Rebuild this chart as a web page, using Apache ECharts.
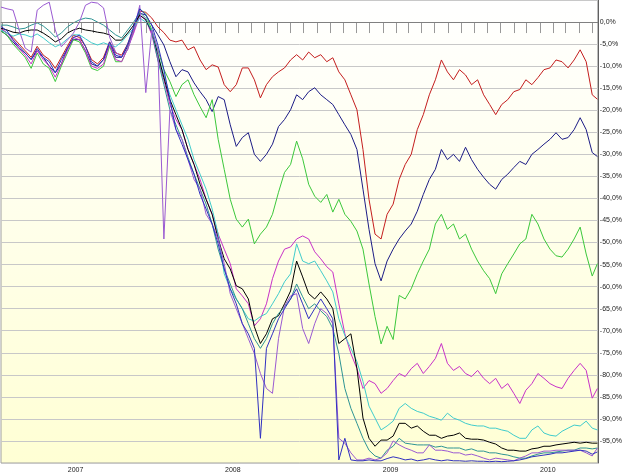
<!DOCTYPE html>
<html>
<head>
<meta charset="utf-8">
<script src="https://cdn.jsdelivr.net/npm/echarts@6/dist/echarts.min.js"></script>
<style>
  html, body { margin: 0; padding: 0; background: #fff; }
  #chart { width: 625px; height: 474px; }
</style>
</head>
<body>
<div id="chart"></div>
<script>
// sample dates: every 14 days from 30 Jul 2006, plus the last day
const sampleDates = [];
for (let i = 0; i < 99; i++) sampleDates.push(new Date(2006, 6, 30 + 14 * i).getTime());
sampleDates.push(new Date(2010, 4, 14).getTime());

// tick positions (first of each month) and year labels
const monthTicks = [];
for (let k = 0; k < 46; k++) monthTicks.push(new Date(2006, 7 + k, 1).getTime());
const yearLabels = [2007, 2008, 2009, 2010];

// performance in %
const red = [-1.5,-2.5,-3.5,-5.0,-6.5,-8.0,-5.5,-7.5,-8.5,-10.5,
  -8.0,-5.5,-3.0,-3.5,-5.5,-8.5,-9.5,-8.0,-4.5,-7.0,
  -7.5,-5.0,-1.5,2.5,2.2,0.9,-1.1,-2.4,-4.1,-4.5,
  -4.1,-6.3,-5.6,-8.6,-10.8,-9.7,-10.2,-14.2,-15.8,-14.2,
  -10.4,-10.4,-13.1,-17.2,-14.2,-12.4,-11.3,-10.4,-8.6,-7.4,
  -8.6,-6.8,-8.1,-7.4,-9.0,-8.1,-11.3,-13.1,-16.5,-19.9,
  -28.9,-40.2,-48.1,-49.2,-43.6,-41.3,-35.7,-32.3,-30.0,-24.4,
  -21.0,-16.5,-13.1,-8.6,-11.3,-13.1,-10.8,-12.0,-14.2,-13.1,
  -16.5,-18.7,-21.0,-18.7,-17.6,-15.8,-15.3,-13.1,-14.2,-12.6,
  -10.8,-10.4,-8.6,-9.0,-10.4,-8.6,-6.3,-9.0,-16.5,-17.5];

const navy = [-2.0,-3.0,-4.5,-6.0,-7.0,-8.5,-6.5,-8.0,-10.0,-11.5,
  -9.5,-6.0,-4.0,-4.0,-6.5,-9.5,-10.0,-8.5,-5.0,-8.0,
  -8.0,-5.5,-2.0,2.0,1.6,-0.7,-2.9,-5.2,-9.0,-12.4,
  -10.8,-11.3,-13.8,-15.8,-17.6,-20.3,-16.9,-17.6,-23.3,-28.2,
  -26.2,-25.1,-30.0,-31.6,-30.0,-27.7,-23.7,-22.1,-19.9,-16.5,
  -17.6,-15.8,-14.9,-16.5,-17.6,-18.7,-21.0,-23.3,-25.5,-28.9,
  -37.9,-47.0,-54.8,-58.7,-54.2,-51.5,-49.2,-47.4,-45.8,-42.9,
  -39.1,-35.7,-33.4,-28.9,-31.2,-30.0,-31.6,-28.4,-31.2,-33.4,
  -35.2,-36.8,-37.9,-35.7,-34.5,-33.0,-31.6,-32.3,-30.0,-28.9,
  -27.7,-26.6,-25.1,-26.6,-26.2,-24.4,-21.7,-24.4,-29.6,-30.5];

const green = [-2.0,-3.0,-5.0,-6.5,-8.0,-10.5,-7.0,-9.5,-10.5,-13.5,
  -10.0,-7.0,-4.0,-4.5,-7.0,-10.5,-11.0,-10.0,-5.5,-9.0,
  -9.0,-6.0,-2.0,3.0,1.8,-1.8,-6.3,-10.8,-13.5,-16.9,
  -14.2,-13.1,-16.5,-19.2,-21.7,-17.6,-26.6,-33.4,-40.2,-44.7,
  -46.5,-44.7,-50.3,-48.1,-46.5,-43.6,-38.6,-34.1,-32.3,-27.0,
  -31.0,-36.8,-39.5,-40.9,-39.1,-43.1,-40.2,-43.6,-45.2,-47.4,
  -51.5,-59.4,-66.8,-73.0,-69.0,-72.0,-62.0,-62.8,-60.5,-57.1,
  -54.2,-51.5,-45.8,-43.6,-47.0,-45.8,-49.2,-48.1,-51.5,-54.2,
  -56.4,-58.2,-61.6,-57.1,-54.8,-52.6,-50.3,-49.2,-43.6,-45.8,
  -49.2,-51.5,-53.0,-53.3,-51.5,-49.2,-46.5,-52.6,-57.6,-54.8];

const magenta = [-1.5,-2.5,-4.0,-6.0,-7.5,-9.5,-6.5,-8.5,-10.0,-12.5,
  -9.5,-6.5,-3.5,-4.0,-6.5,-10.0,-10.5,-9.5,-5.0,-8.5,
  -9.0,-6.0,-2.5,1.5,0.5,-2.9,-8.6,-13.1,-18.7,-22.1,
  -24.4,-28.9,-32.3,-35.7,-40.2,-43.6,-48.1,-51.5,-54.8,-60.5,
  -62.1,-63.9,-68.9,-67.3,-63.9,-58.2,-54.2,-51.5,-51.0,-49.2,
  -48.5,-49.2,-52.1,-53.7,-55.5,-56.7,-63.9,-70.7,-75.2,-78.6,
  -83.1,-81.3,-82.0,-84.2,-83.1,-81.3,-79.7,-80.4,-78.6,-77.4,
  -79.7,-78.1,-76.3,-72.9,-77.4,-79.0,-78.1,-79.7,-80.4,-79.0,
  -80.8,-82.0,-80.8,-83.1,-82.0,-84.2,-86.5,-83.5,-82.0,-79.7,
  -80.8,-82.0,-82.7,-83.1,-80.8,-79.0,-77.4,-79.0,-85.3,-83.1];

const cyan = [-1.8,-2.5,-3.2,-2.7,-2.9,-3.4,-2.7,-3.6,-4.7,-5.6,
  -5.0,-3.8,-2.9,-2.9,-3.8,-4.7,-5.2,-4.7,-5.2,-5.6,
  -4.5,-2.9,-1.4,0.9,0.0,-1.8,-7.4,-12.0,-16.5,-19.9,
  -23.3,-26.6,-31.2,-34.5,-37.9,-42.4,-48.1,-57.1,-60.5,-62.8,
  -65.0,-67.3,-67.8,-66.8,-66.1,-63.9,-61.6,-58.9,-57.1,-50.3,
  -54.2,-54.8,-54.2,-56.4,-58.7,-61.2,-67.3,-71.1,-74.0,-77.0,
  -81.5,-87.1,-89.8,-92.5,-91.6,-90.5,-87.6,-86.5,-87.6,-88.3,
  -88.7,-89.4,-89.8,-90.3,-88.7,-89.8,-90.3,-91.0,-91.4,-91.6,
  -91.6,-92.1,-92.1,-92.5,-92.8,-93.7,-94.4,-94.4,-92.5,-91.6,
  -93.2,-93.7,-93.9,-92.8,-92.1,-91.4,-91.6,-90.5,-92.1,-92.5];

const black = [-1.4,-1.8,-2.3,-2.5,-2.0,-1.8,-1.8,-2.5,-3.4,-4.5,
  -3.8,-2.5,-1.8,-1.4,-1.8,-2.0,-2.3,-2.5,-2.9,-4.1,
  -4.1,-2.5,-0.7,1.6,0.5,-2.3,-7.4,-12.6,-17.6,-21.0,
  -24.4,-28.9,-32.3,-36.8,-40.2,-43.6,-49.2,-53.7,-56.0,-59.8,
  -60.5,-62.8,-69.1,-72.9,-70.7,-67.3,-66.6,-63.9,-61.0,-54.2,
  -57.8,-61.6,-62.8,-61.2,-62.8,-65.0,-72.9,-71.8,-70.7,-78.6,
  -89.8,-94.4,-96.2,-94.8,-94.8,-93.9,-91.0,-91.0,-92.1,-91.6,
  -92.8,-93.7,-93.7,-94.4,-93.9,-93.7,-93.2,-94.4,-94.6,-94.6,
  -94.8,-95.3,-95.7,-96.6,-97.1,-97.1,-97.3,-97.3,-96.8,-96.6,
  -96.2,-96.2,-95.9,-95.7,-95.5,-95.3,-95.5,-95.3,-95.5,-95.5];

const teal = [-0.7,-0.7,-1.1,-1.6,-1.4,-0.7,-0.2,-0.9,-2.0,-3.4,
  -2.5,-1.1,-0.2,0.5,0.9,0.7,0.0,-0.7,-1.8,-2.9,
  -3.6,-1.8,0.0,2.2,0.9,-2.3,-8.6,-14.2,-19.9,-23.3,
  -26.6,-30.7,-34.5,-37.9,-41.3,-45.8,-51.5,-56.0,-59.4,-62.8,
  -65.0,-68.4,-71.8,-74.0,-71.8,-68.4,-66.1,-64.6,-62.8,-59.4,
  -62.3,-65.0,-63.9,-65.5,-66.8,-69.5,-75.2,-83.1,-87.6,-91.0,
  -94.4,-97.1,-98.4,-98.9,-97.1,-96.2,-94.4,-95.5,-95.7,-95.9,
  -95.9,-95.9,-96.4,-96.2,-96.6,-96.6,-96.6,-97.1,-96.8,-97.3,
  -97.3,-97.7,-97.7,-98.0,-98.2,-98.6,-98.9,-98.9,-98.4,-98.0,
  -97.7,-97.7,-97.5,-97.3,-97.1,-97.1,-96.6,-96.6,-96.8,-96.6];

const purple = [3.4,3.0,2.7,-1.8,-5.9,-6.8,2.7,3.8,4.5,-1.8,
  -5.6,-4.1,-2.5,0.0,3.8,4.5,4.3,3.2,-3.4,-6.8,
  -7.9,-6.3,-1.8,3.8,-16.0,-1.8,-6.3,-49.2,-19.9,-24.4,
  -26.6,-31.2,-35.7,-37.9,-43.6,-45.8,-49.2,-54.8,-61.6,-65.0,
  -68.4,-71.8,-75.2,-79.7,-83.1,-84.2,-71.8,-64.4,-62.1,-61.6,
  -69.5,-72.9,-68.4,-65.0,-66.1,-68.4,-94.4,-95.5,-97.7,-99.3,
  -99.3,-98.9,-99.3,-98.9,-97.7,-95.0,-95.9,-96.6,-97.1,-97.7,
  -97.7,-95.9,-97.1,-97.1,-97.3,-97.7,-97.7,-98.2,-98.0,-98.4,
  -98.9,-99.3,-98.9,-99.1,-99.3,-99.5,-98.9,-98.4,-97.7,-97.7,
  -97.3,-97.3,-97.1,-97.1,-97.1,-97.1,-97.1,-97.7,-98.4,-96.6];

const blue = [-1.0,-2.0,-4.0,-5.5,-7.0,-8.5,-6.0,-8.0,-9.0,-11.5,
  -8.5,-6.0,-3.5,-3.0,-5.5,-9.0,-10.0,-8.5,-4.5,-7.5,
  -8.0,-5.0,-1.0,3.0,1.6,-0.7,-5.2,-10.8,-17.6,-24.4,
  -27.7,-31.2,-34.5,-39.1,-42.4,-45.8,-50.3,-56.0,-60.5,-63.9,
  -68.4,-70.7,-74.0,-94.4,-74.0,-70.7,-67.3,-65.0,-62.8,-60.5,
  -63.9,-67.3,-65.0,-62.8,-65.0,-67.3,-99.3,-94.4,-99.3,-99.5,
  -99.5,-99.3,-99.5,-99.5,-99.0,-98.6,-98.9,-99.3,-99.1,-99.5,
  -99.3,-99.0,-99.3,-99.5,-99.3,-99.5,-99.5,-99.6,-99.5,-99.6,
  -99.6,-99.7,-99.6,-99.7,-99.6,-99.5,-99.3,-99.0,-98.6,-98.4,
  -98.2,-98.0,-97.7,-97.7,-97.5,-97.3,-97.1,-97.3,-98.0,-97.5];

const seriesList = [
  { name: 'red', color: '#c41e1e', values: red },
  { name: 'navy', color: '#1c1c86', values: navy },
  { name: 'green', color: '#3cc83c', values: green },
  { name: 'magenta', color: '#c832c8', values: magenta },
  { name: 'cyan', color: '#40cccc', values: cyan },
  { name: 'black', color: '#000000', values: black },
  { name: 'teal', color: '#2e9494', values: teal },
  { name: 'purple', color: '#9a5ad2', values: purple },
  { name: 'blue', color: '#3030c0', values: blue }
];

const chart = echarts.init(document.getElementById('chart'));

const series = seriesList.map((s, idx) => {
  const item = {
    name: s.name,
    type: 'line',
    showSymbol: false,
    symbol: 'none',
    data: sampleDates.map((d, i) => [d, s.values[i]]),
    lineStyle: { width: 1, color: s.color },
    itemStyle: { color: s.color }
  };
  if (idx === 0) {
    // darker zero line
    item.markLine = {
      silent: true,
      symbol: 'none',
      label: { show: false },
      lineStyle: { color: '#808080', type: 'solid', width: 1 },
      data: [{ yAxis: 0 }]
    };
  }
  return item;
});

const option = {
  animation: false,
  backgroundColor: '#ffffff',
  grid: {
    left: 1, right: 23, top: 0, bottom: 11,
    show: true,
    borderColor: '#a0a0a0',
    borderWidth: 1,
    backgroundColor: new echarts.graphic.LinearGradient(0, 0, 0, 1, [
      { offset: 0, color: '#ffffff' },
      { offset: 1, color: '#ffffd4' }
    ])
  },
  xAxis: {
    // timestamps on a plain value axis so ticks can be placed on month starts
    type: 'value',
    min: new Date(2006, 6, 30).getTime(),
    max: new Date(2010, 4, 15).getTime(),
    axisLine: { show: true, lineStyle: { color: '#808080' } },
    axisTick: { show: true, customValues: monthTicks, length: 11, lineStyle: { color: '#999999' } },
    axisLabel: {
      customValues: yearLabels.map(y => new Date(y, 0, 1).getTime()),
      formatter: v => String(new Date(v).getFullYear()),
      align: 'left',
      margin: 4,
      fontSize: 7,
      fontFamily: 'Liberation Sans',
      color: '#222'
    },
    splitLine: { show: false }
  },
  yAxis: {
    type: 'value',
    position: 'right',
    min: -100,
    max: 5,
    interval: 5,
    axisLine: { show: true, lineStyle: { color: '#606060' } },
    axisTick: { show: false },
    axisLabel: {
      formatter: v => (v === 5 || v === -100) ? '' : v.toFixed(1).replace('.', ',') + '%',
      fontSize: 7,
      fontFamily: 'Liberation Sans',
      color: '#222',
      margin: 2,
      verticalAlign: 'middle',
      padding: [0, 0, 4, 0]
    },
    splitLine: { show: true, lineStyle: { color: '#c8c8c8', width: 1 } }
  },
  series: series
};

chart.setOption(option);
</script>
</body>
</html>
